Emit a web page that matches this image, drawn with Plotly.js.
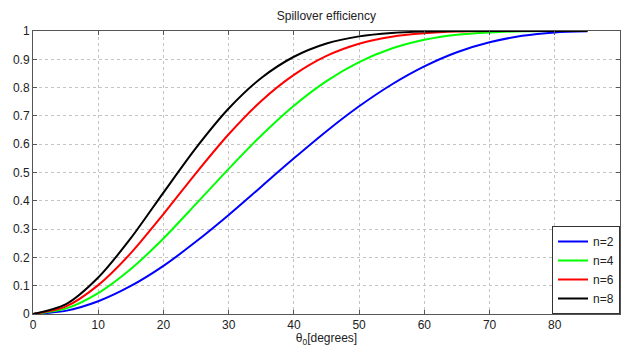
<!DOCTYPE html>
<html>
<head>
<meta charset="utf-8">
<script src="https://cdn.plot.ly/plotly-3.0.1.min.js"></script>
<style>html,body{margin:0;padding:0;background:#fff;}#chart{width:624px;height:347px;}</style>
</head>
<body>
<div id="chart"></div>
<script>
// Feed taper angle theta0 in degrees
var theta = [0,5,10,15,20,25,30,35,40,45,50,55,60,65,70,75,80,85];
// Spillover efficiency
var effN2 = [0,0.011,0.045,0.099,0.170,0.256,0.350,0.450,0.550,0.646,0.734,0.811,0.875,0.925,0.960,0.983,0.995,0.999];
var effN4 = [0,0.019,0.074,0.159,0.267,0.389,0.513,0.631,0.736,0.823,0.890,0.938,0.969,0.987,0.995,0.999,1,1];
var effN6 = [0,0.026,0.102,0.215,0.353,0.498,0.635,0.753,0.845,0.912,0.955,0.980,0.992,0.998,1,1,1,1];
var effN8 = [0,0.034,0.129,0.268,0.429,0.587,0.726,0.834,0.909,0.956,0.981,0.993,0.998,1,1,1,1,1];
var seriesNames = ['n=2','n=4','n=6','n=8'];
var seriesColors = ['#0000ff','#00ff00','#ff0000','#000000'];
var xTicks = [0,10,20,30,40,50,60,70,80,90];
var yTicks = [0,0.1,0.2,0.3,0.4,0.5,0.6,0.7,0.8,0.9,1];
var yTickText = ['0','0.1','0.2','0.3','0.4','0.5','0.6','0.7','0.8','0.9','1'];

var allY = [effN2, effN4, effN6, effN8];
var traces = allY.map(function(y, i){
  return {x: theta, y: y, type: 'scatter', mode: 'lines', name: seriesNames[i],
    line: {color: seriesColors[i], width: 2, shape: 'spline', smoothing: 0.8}};
});

var axisFont = {family: 'Liberation Sans, Arial, sans-serif', size: 12, color: '#222'};
var layout = {
  width: 624, height: 347,
  margin: {l: 33, r: 4, t: 31, b: 33},
  paper_bgcolor: '#fff', plot_bgcolor: '#fff',
  font: axisFont,
  title: {text: 'Spillover efficiency', x: 0.523, xanchor: 'center', y: 0.955, yanchor: 'middle',
    font: {family: 'Liberation Sans, Arial, sans-serif', size: 12, color: '#222'}},
  xaxis: {range: [0, 90], tickvals: xTicks, ticktext: xTicks.map(String),
    showgrid: true, gridcolor: '#c4c4c4', griddash: 'dot', gridwidth: 1,
    zeroline: false, showline: true, linecolor: '#555', linewidth: 1, mirror: 'ticks',
    ticks: 'inside', ticklen: 4, tickcolor: '#555',
    title: {text: 'θ<sub>0</sub>[degrees]', standoff: 2, font: axisFont}},
  yaxis: {range: [0, 1], tickvals: yTicks, ticktext: yTickText,
    showgrid: true, gridcolor: '#c4c4c4', griddash: 'dot', gridwidth: 1,
    zeroline: false, showline: true, linecolor: '#555', linewidth: 1, mirror: 'ticks',
    ticks: 'inside', ticklen: 4, tickcolor: '#555', ticklabelstandoff: 0},
  showlegend: true,
  legend: {x: 1, xanchor: 'right', y: 0, yanchor: 'bottom', bgcolor: '#fff',
    bordercolor: '#333', borderwidth: 1, itemwidth: 30, tracegroupgap: 0,
    font: {family: 'Liberation Sans, Arial, sans-serif', size: 12, color: '#222'}}
};
Plotly.newPlot('chart', traces, layout, {displayModeBar: false, staticPlot: true});
</script>
</body>
</html>
